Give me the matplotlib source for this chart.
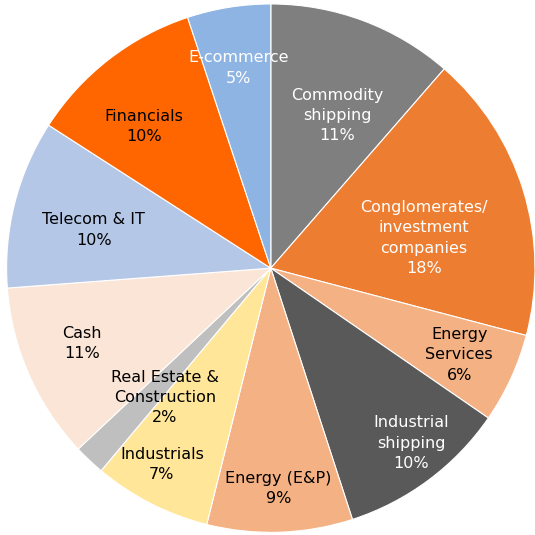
import numpy as np
import matplotlib.pyplot as plt

# Portfolio split by sector, clockwise from 12 o'clock
sectors = [
    "Commodity\nshipping",
    "Conglomerates/\ninvestment\ncompanies",
    "Energy\nServices",
    "Industrial\nshipping",
    "Energy (E&P)",
    "Industrials",
    "Real Estate &\nConstruction",
    "Cash",
    "Telecom & IT",
    "Financials",
    "E-commerce",
]
shares = [11.4, 17.7, 5.5, 10.4, 8.9, 7.2, 1.9, 10.8, 10.3, 10.8, 5.1]
pct_labels = ["11%", "18%", "6%", "10%", "9%", "7%", "2%", "11%", "10%", "10%", "5%"]

colors = [
    "#7f7f7f", "#ed7d31", "#f4b183", "#595959", "#f4b183", "#ffe699",
    "#bfbfbf", "#fbe5d6", "#b4c7e7", "#ff6600", "#8eb4e3",
]
text_colors = ["white", "white", "black", "white", "black", "black",
               "black", "black", "black", "black", "white"]

# label placement: radius (fraction of pie radius) and angle nudge (deg)
label_r = [0.63, 0.59, 0.785, 0.85, 0.835, 0.85, 0.633, 0.77, 0.685, 0.72, 0.768]
label_nudge = [-3, -6, 0, 2, 0, -2, 4, -2, 2, 4, 0]

fig = plt.figure(figsize=(5.35, 5.35), dpi=100)
ax = fig.add_axes([0, 0, 1, 1])

wedges, _ = ax.pie(
    shares,
    colors=colors,
    startangle=90,
    counterclock=False,
    wedgeprops=dict(edgecolor="white", linewidth=0.8),
)

for w, name, pct, tc, r, nd in zip(wedges, sectors, pct_labels, text_colors,
                                   label_r, label_nudge):
    mid = np.deg2rad((w.theta1 + w.theta2) / 2 + nd)
    ax.text(
        r * np.cos(mid),
        r * np.sin(mid),
        f"{name}\n{pct}",
        ha="center",
        va="center",
        fontsize=11.5,
        color=tc,
        linespacing=1.45,
    )

ax.set_xlim(-1.025, 1.0)
ax.set_ylim(-1.01, 1.015)
ax.set_aspect("equal")
ax.axis("off")

plt.savefig("out.png", dpi=100)
